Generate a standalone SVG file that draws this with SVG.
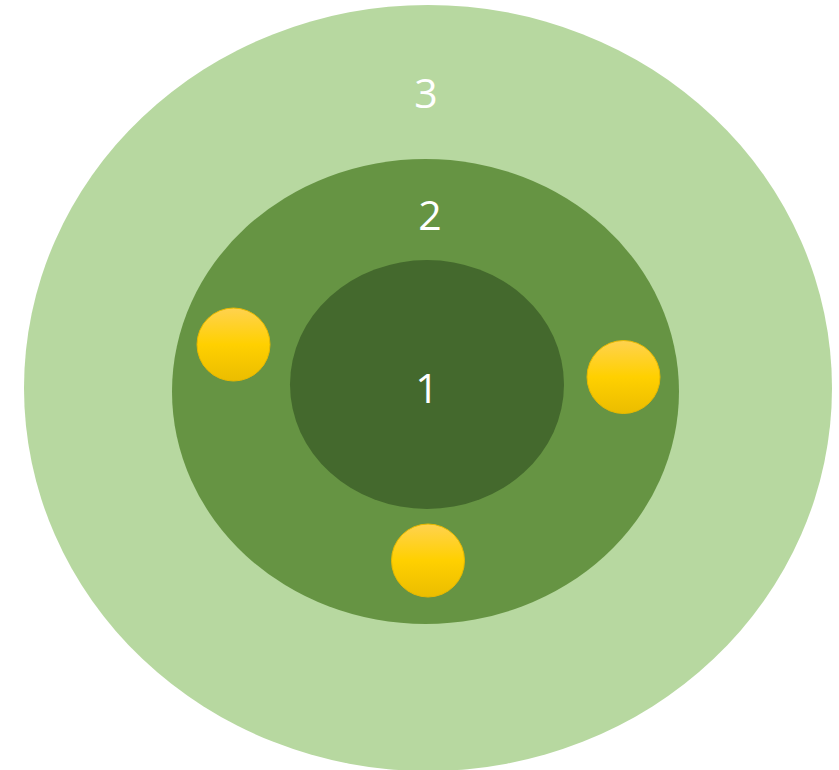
<svg xmlns="http://www.w3.org/2000/svg" width="839" height="770" viewBox="0 0 839 770">
<style>
.lbl{font-family:"Open Sans","Liberation Sans",sans-serif;font-size:41px;fill:#ffffff;text-anchor:middle}
.dot{fill:url(#gold);stroke:#E8B900;stroke-width:1}
</style>
<defs>
<linearGradient id="gold" x1="0" y1="0" x2="0" y2="1">
<stop offset="0" stop-color="#FFD24F"/>
<stop offset="0.5" stop-color="#FFD000"/>
<stop offset="1" stop-color="#EBBD00"/>
</linearGradient>
</defs>
<g id="ring3">
<ellipse cx="428" cy="388" rx="404" ry="383" fill="#B7D8A0"/>
<text class="lbl" x="426" y="108">3</text>
</g>
<g id="ring2">
<ellipse cx="425.5" cy="391.5" rx="253.5" ry="232.5" fill="#669443"/>
<text class="lbl" x="430" y="230">2</text>
</g>
<g id="ring1">
<ellipse cx="427" cy="384.5" rx="137" ry="124.5" fill="#44692D"/>
<text class="lbl" x="427" y="403">1</text>
</g>
<g id="dot1"><circle class="dot" cx="233.5" cy="344.5" r="36.5"/></g>
<g id="dot2"><circle class="dot" cx="623.5" cy="377" r="36.5"/></g>
<g id="dot3"><circle class="dot" cx="428" cy="560.5" r="36.5"/></g>
<g id="connectors"></g>
</svg>
